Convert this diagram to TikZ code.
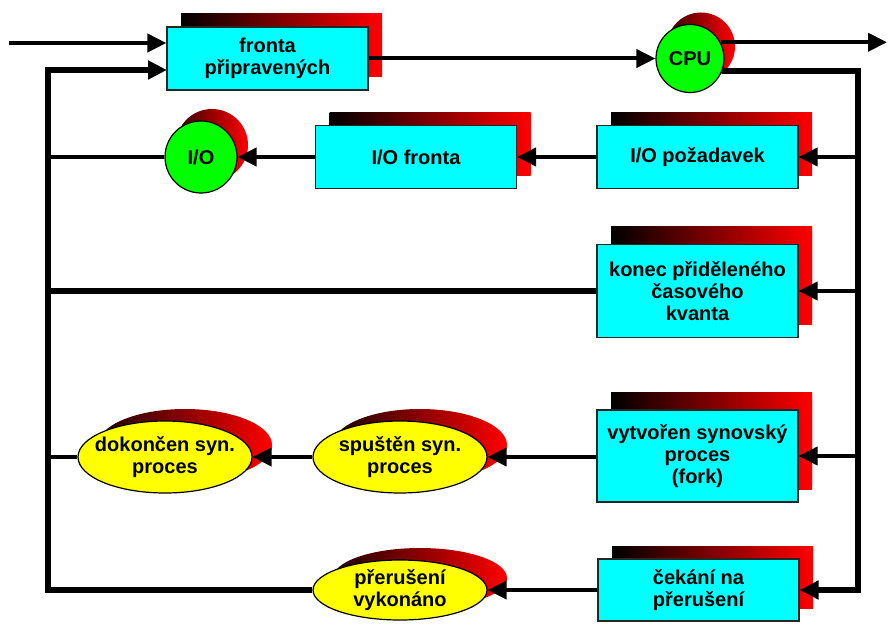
\documentclass[tikz,border=0pt]{standalone}
\usepackage{fontspec}
\setmainfont{Liberation Sans}
\usetikzlibrary{arrows.meta,shadows,shapes.geometric}
\definecolor{boxcyan}{RGB}{0,255,255}
\definecolor{cgreen}{RGB}{0,255,0}
\definecolor{cyellow}{RGB}{255,255,0}
\definecolor{sred}{RGB}{255,0,0}
\begin{document}
\begin{tikzpicture}[x=1pt,y=-1pt,
  lbl/.style={font=\fontsize{20}{22}\selectfont\bfseries, align=center, text=black},
  boxnode/.style={lbl, rectangle, draw=black!85, line width=1.2pt, fill=boxcyan,
     minimum width=201pt, inner sep=0pt,
     general shadow={shadow xshift=14pt, shadow yshift=13pt, left color=black, right color=sred}},
  tallbox/.style={boxnode, general shadow={shadow xshift=14pt, shadow yshift=18pt, left color=black, right color=sred}},
  circnode/.style={lbl, circle, draw=black, line width=1.2pt, fill=cgreen, inner sep=0pt,
     general shadow={shadow xshift=11pt, shadow yshift=12pt, left color=black!80!sred, right color=sred}},
  ellnode/.style={lbl, ellipse, draw=black, line width=1.2pt, fill=cyellow, inner xsep=-9pt, inner ysep=-2pt,
     minimum width=174pt, minimum height=72pt,
     general shadow={shadow xshift=20pt, shadow yshift=12pt, left color=black!90!sred, right color=sred}},
  conn/.style={line width=4pt, black},
  loopline/.style={line width=6pt, black, line join=miter},
  arr/.style={-{Triangle[length=19pt,width=18pt]}}
]
\useasboundingbox (0,0) rectangle (889,626);

% nodes
\node[boxnode, minimum height=63pt] (fronta) at (267.5,58.5) {fronta\\připravených};
\node[circnode, minimum size=68pt] (cpu) at (690,58.5) {CPU};
\node[boxnode, minimum height=63pt] (iofr) at (416,157) {I/O fronta};
\node[boxnode, minimum height=63pt] (iopoz) at (697.5,157) {I/O požadavek};
\node[circnode, minimum size=72pt] (io) at (201,157) {I/O};
\node[tallbox, minimum height=93pt] (konec) at (697.5,291) {konec přiděleného\\časového\\kvanta};
\node[tallbox, minimum height=92pt] (fork) at (697.5,456) {vytvořen synovský\\proces\\(fork)};
\node[ellnode] (spu) at (400,457) {spuštěn syn.\\proces};
\node[ellnode] (dok) at (165,457) {dokončen syn.\\proces};
\node[boxnode, minimum height=62pt] (cek) at (698.5,590) {čekání na\\přerušení};
\node[ellnode, minimum height=60pt] (prer) at (400,590) {přerušení\\vykonáno};

% helper coordinates
\coordinate (in) at (9,43);
\coordinate (out) at (887,43);
\coordinate (rv) at (858,0);
\coordinate (lv) at (48,0);
\coordinate (fin) at (167,70);

% connectors
\draw[conn, arr] (in) -- (in -| fronta.west);
\draw[conn, arr] (fronta) -- (cpu);
\draw[conn, arr] (cpu.28) -- (cpu.28 -| out);
\draw[loopline, arr] (cpu.-22) -| (rv |- cek.east) -- (cek.east);
\draw[conn, arr] (rv |- iopoz) -- (iopoz.east);
\draw[conn, arr] (rv |- konec) -- (konec.east);
\draw[conn, arr] (rv |- fork) -- (fork.east);
\draw[conn, arr] (iopoz) -- (iofr);
\draw[conn, arr] (iofr) -- (io);
\draw[conn] (io) -- (lv |- io);
\draw[loopline] (konec) -- (lv |- konec);
\draw[conn, arr] (fork.west |- spu) -- (spu);
\draw[conn, arr] (spu) -- (dok);
\draw[conn] (dok) -- (lv |- dok);
\draw[conn, arr] (cek) -- (prer);
\draw[loopline, arr] (prer) -| (lv |- fin) -- (fin);
\end{tikzpicture}
\end{document}
